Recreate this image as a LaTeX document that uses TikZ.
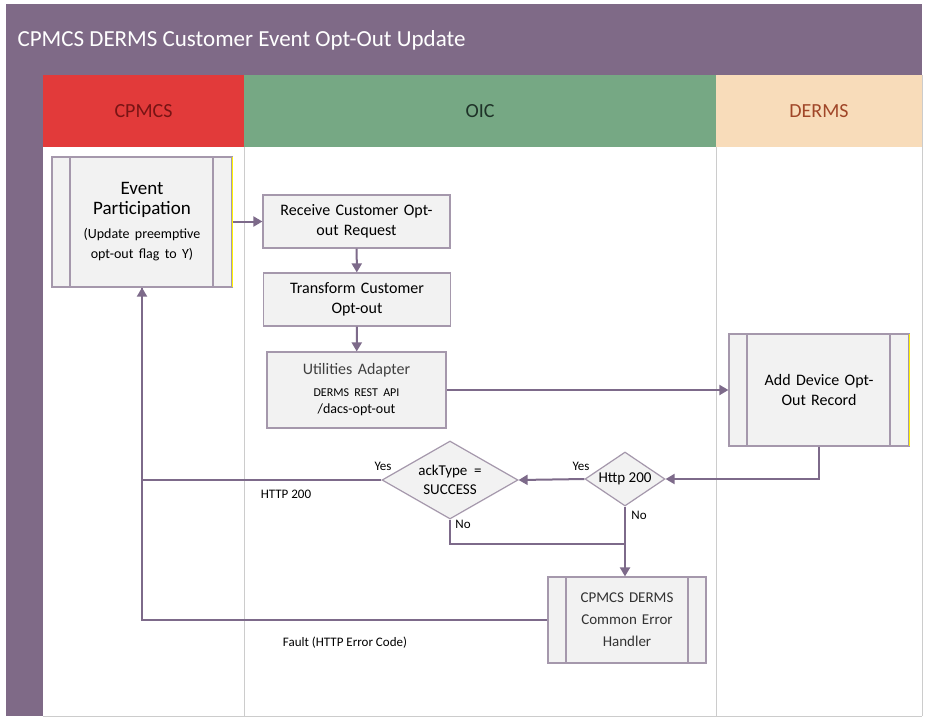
\documentclass[tikz,border=0pt]{standalone}
\usepackage{fontspec}
\setmainfont{Carlito}
\usetikzlibrary{shapes.geometric,arrows.meta}
\definecolor{pur}{HTML}{7F6A87}
\definecolor{lnc}{HTML}{7D6A8A}
\definecolor{boxf}{HTML}{F2F2F2}
\definecolor{boxd}{HTML}{A598AC}
\begin{document}
\begin{tikzpicture}[x=1pt,y=-1pt,
  box/.style={draw=boxd,fill=boxf,line width=1.2pt,inner sep=2pt,align=center,font=\fontsize{16}{20}\selectfont},
  dia/.style={diamond,aspect=1.7,draw=boxd,fill=boxf,line width=1.2pt,inner sep=0pt,align=center,font=\fontsize{15}{19}\selectfont},
  con/.style={draw=lnc,line width=2pt},
  arr/.style={con,-{Triangle[length=9pt,width=10pt]}},
  lbl/.style={font=\fontsize{13}{15}\selectfont,inner sep=1pt}]
\useasboundingbox (0,0) rectangle (931,724);
\fill[white] (0,0) rectangle (931,724);
% frame
\fill[pur] (6,4) rectangle (922,75);
\fill[pur] (6,75) rectangle (43,716);
\node[anchor=west,text=white,font=\fontsize{23}{27}\selectfont] (title) at (14,40) {CPMCS DERMS Customer Event Opt-Out Update};
\fill[fill={rgb,255:red,226;green,58;blue,58}] (43,75) rectangle (244,147);
\fill[fill={rgb,255:red,118;green,168;blue,132}] (244,75) rectangle (716,147);
\fill[fill={rgb,255:red,248;green,220;blue,186}] (716,75) rectangle (922,147);
\node[text={rgb,255:red,120;green,20;blue,20},font=\fontsize{20}{24}\selectfont] (h1) at (143.5,111) {CPMCS};
\node[text={rgb,255:red,30;green,50;blue,40},font=\fontsize{20}{24}\selectfont] (h2) at (480,111) {OIC};
\node[text={rgb,255:red,160;green,70;blue,40},font=\fontsize{20}{24}\selectfont] (h3) at (819,111) {DERMS};
\draw[gray!40,line width=1pt] (244,147) -- (244,716) (716,147) -- (716,716) (922,75) -- (922,716) (43,716) -- (922,716);
% nodes
\node[box,minimum width=180pt,minimum height=130pt,text width=140pt] (ev) at (142,222)
  {{\fontsize{19}{25}\selectfont Event\\Participation}\\[2pt]{\fontsize{14}{22}\selectfont (Update preemptive\\opt-out flag to Y)}};
\draw[boxd,line width=1.2pt] (70,157) -- (70,287) (213,157) -- (213,287);
\draw[yellow,line width=1.2pt] (232.5,157) -- (232.5,287);
\node[box,minimum width=187pt,minimum height=53pt,text width=183pt] (rc) at (356.5,221.5) {Receive Customer Opt-\\out Request};
\node[box,minimum width=186pt,minimum height=53pt,text width=183pt] (tr) at (357,299.5) {Transform Customer\\Opt-out};
\node[box,minimum width=179pt,minimum height=76pt,text width=175pt] (ua) at (356.5,390)
  {\textcolor{black!75}{Utilities Adapter}\\[2pt]{\fontsize{12}{20}\selectfont DERMS REST API}\\[-3pt]{\fontsize{14}{18}\selectfont /dacs-opt-out}};
\node[box,minimum width=180pt,minimum height=112pt,text width=140pt] (ad) at (819,390) {Add Device Opt-\\Out Record};
\draw[boxd,line width=1.2pt] (747,334) -- (747,446) (890,334) -- (890,446);
\draw[yellow,line width=1.2pt] (909.5,334) -- (909.5,446);
\node[dia,minimum width=136pt,minimum height=78pt] (ack) at (450,480) {ackType~ =\\SUCCESS};
\node[dia,minimum width=80pt,minimum height=54pt,aspect=1.5] (http) at (625,479) {Http 200};
\node[box,minimum width=158pt,minimum height=86pt,text width=120pt,font=\fontsize{15}{22}\selectfont] (err) at (627,620)
  {\textcolor{black!80}{CPMCS DERMS}\\\textcolor{black!80}{Common Error}\\\textcolor{black!80}{Handler}};
\draw[boxd,line width=1.2pt] (566,577) -- (566,663) (688,577) -- (688,663);
% connectors
\draw[arr] (ev.east |- rc.west) -- (rc.west);
\draw[arr] (rc) -- (tr);
\draw[arr] (tr) -- (ua);
\draw[arr] (ua.east) -- (ad.west);
\draw[arr] (ad.south) |- (http.east);
\draw[arr] (http.west) -- (ack.east);
\draw[arr] (ack.west) -| (ev.south);
\coordinate (j) at (625,544);
\draw[con] (ack.south) |- (j);
\draw[arr] (http.south) -- (err.north -| http.south);
\draw[con] (err.west) -| (ev.south);
% labels
\node[lbl] (y1) at (383,466) {Yes};
\node[lbl] (y2) at (581,466) {Yes};
\node[lbl] (n1) at (463,524) {No};
\node[lbl] (n2) at (639,515) {No};
\node[lbl] (l1) at (286,494) {HTTP 200};
\node[lbl] (l2) at (345,643) {Fault (HTTP Error Code)};
\end{tikzpicture}
\end{document}
